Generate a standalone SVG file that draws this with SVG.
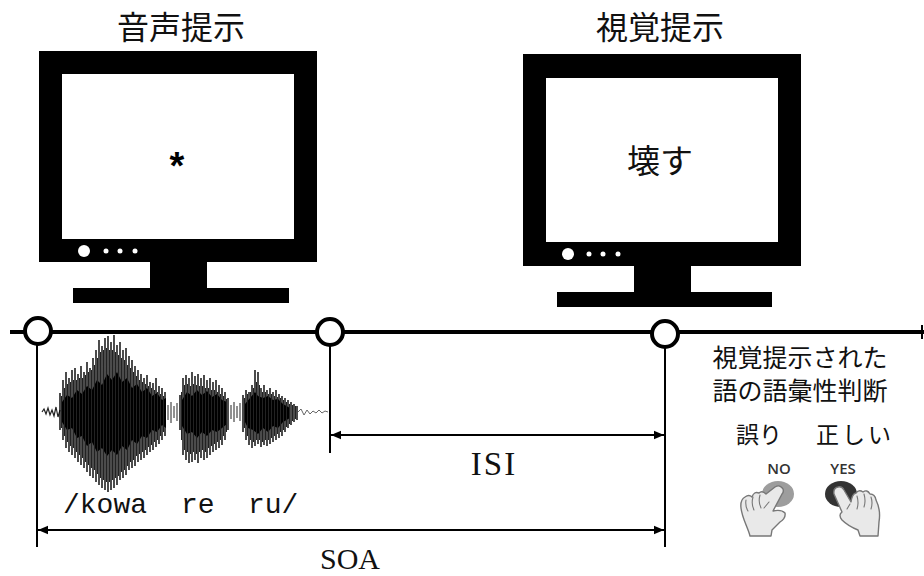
<svg xmlns="http://www.w3.org/2000/svg" width="924" height="576" viewBox="0 0 924 576">
  <defs>
    <marker id="arrow" viewBox="0 0 10 10" refX="10" refY="5" markerWidth="10" markerHeight="10" markerUnits="userSpaceOnUse" orient="auto-start-reverse">
      <path d="M0,0.8 L10,5 L0,9.2 Z" fill="#000"/>
    </marker>
    <style>
      .bezel { fill: #000; }
      .screen { fill: #fff; }
      .led { fill: #fff; }
      .jp { font-family: "Noto Sans CJK JP", "Noto Sans", sans-serif; fill: #111; }
      .latin { font-family: "Liberation Serif", "DejaVu Serif", serif; fill: #111; }
      .mono { font-family: "Liberation Mono", "DejaVu Sans Mono", monospace; fill: #111; }
      .tick { stroke: #000; stroke-width: 2; fill: none; }
      .dim { stroke: #000; stroke-width: 2; fill: none; marker-start: url(#arrow); marker-end: url(#arrow); }
      .timeline { stroke: #000; stroke-width: 4; fill: none; }
      .event { fill: #fff; stroke: #000; stroke-width: 4; }
      .hand { fill: #e9e9e9; stroke: #777; stroke-width: 1.4; stroke-linejoin: round; }
      .crease { fill: none; stroke: #777; stroke-width: 1.1; stroke-linecap: round; }
      .key { font-family: "Open Sans", "Liberation Sans", sans-serif; font-size: 15px; font-weight: 600; fill: #333; }
    </style>
  </defs>

  <rect width="924" height="576" fill="#fff"/>

  <!-- auditory presentation monitor -->
  <g id="monitor-audio">
    <text class="jp" x="181" y="39" font-size="32" text-anchor="middle">音声提示</text>
    <rect class="bezel" x="39" y="51" width="278" height="211"/>
    <rect class="screen" x="62" y="74" width="232" height="165"/>
    <circle class="led" cx="84" cy="251" r="6"/>
    <circle class="led" cx="106" cy="251" r="2.5"/>
    <circle class="led" cx="120" cy="251" r="2.5"/>
    <circle class="led" cx="135" cy="251" r="2.5"/>
    <rect class="bezel" x="150" y="261" width="57" height="28"/>
    <rect class="bezel" x="73" y="288" width="216" height="15"/>
    <text x="177" y="179" font-family="Liberation Sans, Arial, sans-serif" font-weight="bold" font-size="38" text-anchor="middle" fill="#000">*</text>
  </g>

  <!-- visual presentation monitor -->
  <g id="monitor-visual">
    <text class="jp" x="660" y="39" font-size="32" text-anchor="middle">視覚提示</text>
    <rect class="bezel" x="523" y="54" width="278" height="212"/>
    <rect class="screen" x="546" y="78" width="232" height="164"/>
    <circle class="led" cx="568" cy="254" r="6"/>
    <circle class="led" cx="589" cy="254" r="2.5"/>
    <circle class="led" cx="603" cy="254" r="2.5"/>
    <circle class="led" cx="618" cy="254" r="2.5"/>
    <rect class="bezel" x="634" y="265" width="57" height="28"/>
    <rect class="bezel" x="557" y="292" width="215" height="15"/>
    <text class="jp" x="660" y="173" font-size="33" text-anchor="middle">壊す</text>
  </g>

  <!-- speech waveform of the spoken word -->
  <g id="waveform">
    <path d="M42 412 L44 409 L46 414 L48 408 L50 415 L52 410 L54 416 L56 407 L58 417 L60 410" fill="none" stroke="#222" stroke-width="1.2"/>
    <!-- dense core of each syllable -->
    <path fill="#000" d="
      M62 402 L67 395 L72 398 L77 390 L82 394 L87 386 L92 390 L97 380 L102 385 L107 374 L112 380 L117 372 L122 382
      L127 378 L132 388 L137 384 L142 392 L147 388 L152 396 L157 393 L162 400 L166 398
      L166 428 L162 425 L157 432 L152 430 L147 438 L142 436 L137 444 L132 440 L127 450 L122 446 L117 455 L112 450
      L107 456 L102 448 L97 452 L92 442 L87 446 L82 436 L77 438 L72 428 L67 430 L62 422 Z
      M182 400 L187 392 L192 396 L197 390 L202 395 L207 391 L212 397 L217 394 L222 400 L227 402
      L227 424 L222 428 L217 432 L212 430 L207 436 L202 432 L197 438 L192 432 L187 434 L182 426 Z
      M245 404 L250 398 L255 392 L258 396 L263 398 L268 396 L273 400 L278 399 L283 404 L290 408
      L290 418 L283 422 L278 428 L273 426 L268 432 L263 428 L258 434 L253 430 L248 428 L245 422 Z"/>
    <!-- individual oscillation strokes -->
    <path fill="none" stroke="#000" stroke-width="1.4" d="
      M60 393V430 M63 380V440 M66 372V448 M69 378V452 M72 370V455 M75 368V458 M78 374V462 M81 366V465
      M84 372V468 M87 362V472 M90 368V476 M93 358V478 M96 350V482 M99 340V485 M102 346V488 M105 338V490
      M108 336V492 M111 342V490 M114 335V488 M117 345V485 M120 342V480 M123 350V478 M126 348V475 M129 356V470
      M132 360V468 M135 366V466 M138 370V462 M141 374V460 M144 378V458 M147 375V455 M150 382V452 M153 383V450
      M156 378V447 M159 386V444 M162 388V440 M165 392V436
      M180 395V430 M183 378V455 M186 375V460 M189 378V463 M192 372V462 M195 376V460 M198 374V463 M201 378V458
      M204 375V460 M207 380V458 M210 378V455 M213 382V452 M216 380V450 M219 385V448 M222 388V445 M225 392V440 M228 398V430
      M243 395V432 M246 390V440 M249 392V445 M252 385V448 M255 370V446 M258 372V444 M261 388V447 M264 385V445
      M267 390V446 M270 388V444 M273 392V442 M276 390V440 M279 394V438 M282 396V436 M285 398V432 M288 400V428
      M291 402V425 M294 404V422 M297 406V420"/>
    <path fill="none" stroke="#222" stroke-width="1" d="
      M61.5 396V428 M64.5 388V436 M67.5 384V442 M70.5 382V446 M73.5 380V448 M76.5 380V452 M79.5 378V455
      M82.5 378V458 M85.5 375V462 M88.5 372V465 M91.5 370V468 M94.5 365V470 M97.5 358V474 M100.5 352V478
      M103.5 350V480 M106.5 348V482 M109.5 350V482 M112.5 350V480 M115.5 352V478 M118.5 355V476 M121.5 358V472
      M124.5 360V470 M127.5 365V466 M130.5 368V462 M133.5 372V460 M136.5 376V456 M139.5 380V454 M142.5 382V452
      M145.5 384V450 M148.5 386V447 M151.5 388V445 M154.5 390V442 M157.5 392V440 M160.5 394V436 M163.5 396V432
      M168 405V420 M171 402V423 M174 406V418 M177 403V421
      M181.5 392V440 M184.5 385V450 M187.5 384V452 M190.5 386V454 M193.5 384V452 M196.5 385V454 M199.5 386V452
      M202.5 386V450 M205.5 388V452 M208.5 388V448 M211.5 390V446 M214.5 390V444 M217.5 392V442 M220.5 394V440
      M223.5 396V436 M226.5 399V432
      M231 405V419 M234 402V422 M237 406V418 M240 403V421
      M244.5 398V428 M247.5 394V436 M250.5 392V440 M253.5 388V442 M256.5 382V440 M259.5 385V440 M262.5 392V442
      M265.5 392V440 M268.5 394V440 M271.5 394V438 M274.5 396V436 M277.5 397V434 M280.5 398V432 M283.5 400V430
      M286.5 402V427 M289.5 404V424 M292.5 405V421 M295.5 406V419"/>
    <path d="M298 412 L301 409 L304 415 L307 410 L310 414 L313 411 L316 413 L319 410 L322 413 L325 411 L328 412" fill="none" stroke="#555" stroke-width="0.9"/>
    <text class="mono" y="513" font-size="28"><tspan x="63">/kowa</tspan><tspan x="181">re</tspan><tspan x="248">ru/</tspan></text>
  </g>

  <!-- timeline, event markers and intervals -->
  <g id="connectors">
    <line class="timeline" x1="10" y1="332" x2="924" y2="332"/>
    <line class="tick" x1="922" y1="325" x2="922" y2="339"/>
    <line class="tick" x1="37" y1="345" x2="37" y2="547"/>
    <line class="tick" x1="330" y1="345" x2="330" y2="453"/>
    <line class="tick" x1="665" y1="347" x2="665" y2="547"/>
    <line class="dim" x1="331" y1="435" x2="664" y2="435"/>
    <line class="dim" x1="38" y1="530" x2="664" y2="530"/>
  </g>

  <g id="event-audio-onset"><circle class="event" cx="38" cy="331" r="13"/></g>
  <g id="event-audio-offset"><circle class="event" cx="330" cy="332" r="13"/></g>
  <g id="event-visual-onset"><circle class="event" cx="665" cy="334" r="13"/></g>

  <g id="label-isi"><text class="latin" x="494" y="475" font-size="33" text-anchor="middle" letter-spacing="2">ISI</text></g>
  <g id="label-soa"><text class="latin" x="350" y="569" font-size="30" text-anchor="middle">SOA</text></g>

  <!-- lexical decision response -->
  <g id="decision">
    <text class="jp" x="800" y="367" font-size="25" text-anchor="middle">視覚提示された</text>
    <text class="jp" x="800" y="400" font-size="25" text-anchor="middle">語の語彙性判断</text>
    <text class="jp" x="759" y="443" font-size="23" text-anchor="middle">誤り</text>
    <text class="jp" x="855" y="443" font-size="23" text-anchor="middle" letter-spacing="3">正しい</text>
  </g>

  <g id="button-no">
    <text class="key" x="779" y="474" text-anchor="middle">NO</text>
    <ellipse cx="778" cy="494" rx="16" ry="13" fill="#9d9d9d"/>
    <path class="hand" d="M750 536 C748 528 742 518 741 508 Q740 500 745 497 Q749 494 752 497 Q754 491 759 493 Q762 490 766 494 L775 487 Q780 484 783 489 Q784 492 782 494 L773 511 Q781 509 785 513 Q786 518 780 522 L772 530 L771 536 Z"/>
    <path class="crease" d="M746 500 Q745 506 748 511 M753 497 Q751 504 754 510 M760 495 Q758 502 761 508 M764 508 L769 502"/>
  </g>

  <g id="button-yes">
    <text class="key" x="843" y="474" text-anchor="middle">YES</text>
    <ellipse cx="841" cy="494" rx="16" ry="13" fill="#333"/>
    <path class="hand" d="M860 536 L858 530 Q848 526 842 520 Q838 515 842 512 L834 494 Q833 488 838 487 Q842 486 844 490 L851 502 Q852 494 856 493 Q859 489 863 492 Q867 489 870 494 Q875 494 876 500 Q881 510 879 522 L878 536 Z"/>
    <path class="crease" d="M857 496 Q859 503 857 509 M864 494 Q866 501 864 507 M871 497 Q873 503 871 509 M850 504 L847 509"/>
  </g>
</svg>
